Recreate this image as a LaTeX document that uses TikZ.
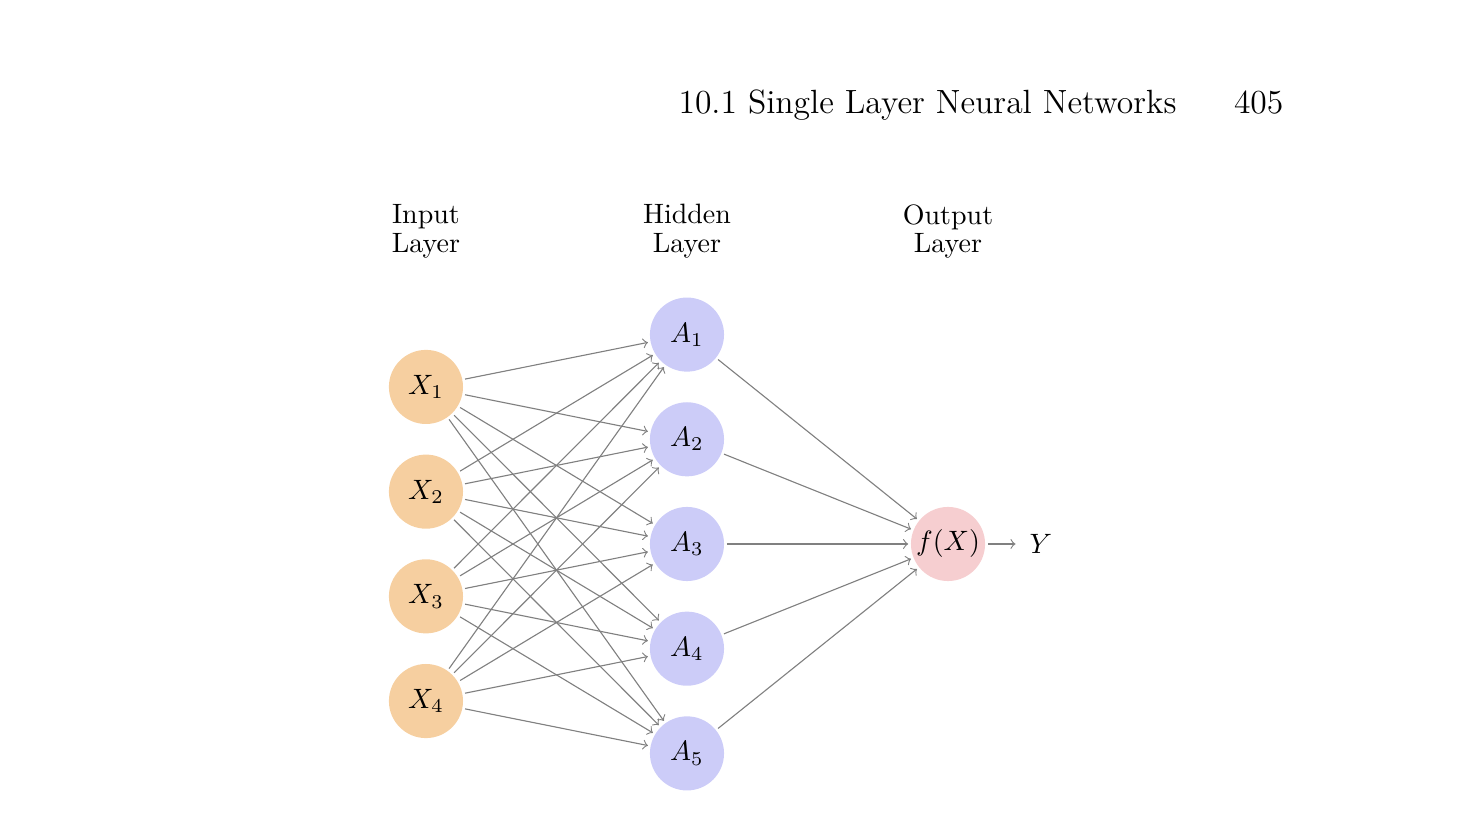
\documentclass[tikz,border=0pt]{standalone}
\usepackage{amsmath}
\usepackage{amssymb}
\usepackage{tikz}
\usetikzlibrary{matrix}
\usetikzlibrary{positioning}
\usetikzlibrary{calc}
\definecolor{inputcol}{RGB}{246,207,160}
\definecolor{hiddencol}{RGB}{204,204,248}
\definecolor{outputcol}{RGB}{246,206,208}

\begin{document}
\begin{tikzpicture}[>=to,
layer/.style={align=center,anchor=center},
wire/.style={->,draw=gray}]
\matrix (net) [%
matrix of math nodes,
nodes={circle,minimum size=0.93cm,inner sep=0pt,outer sep=1pt,anchor=center},
column 1/.style={nodes={fill=inputcol}},
column 2/.style={nodes={fill=hiddencol}},
column 3/.style={nodes={fill=outputcol}},
column sep=2.346cm,
row sep=-0.273cm,ampersand replacement=\&
]
{
	\& A_1 \&   \\
	X_1 \&   \&   \\
	\& A_2 \&   \\
	X_2 \&   \&   \\
	\& A_3 \& f(X) \\
	X_3 \&   \&   \\
	\& A_4 \&   \\
	X_4 \&   \&   \\
	\& A_5 \&   \\
};
\node[right=0.40cm of net-5-3] (y) {$Y$};
% layer titles
\node[layer] (inlab) at ($(net-2-1 |- net-1-2)+(0,1.295)$) {Input\\[-1.8pt]Layer};
\node[layer] (hidlab) at ($(net-1-2)+(0,1.295)$) {Hidden\\[-1.8pt]Layer};
\node[layer] (outlab) at ($(net-5-3 |- net-1-2)+(0,1.295)$) {Output\\[-1.8pt]Layer};
% running head
\node[anchor=base west,inner sep=0pt,font=\large] (head) at ($(net-5-2)+(-0.113,5.40)$) {10.1 Single Layer Neural Networks};
\node[anchor=base east,inner sep=0pt,font=\large] (page) at ($(net-5-2)+(7.492,5.40)$) {405};
\foreach \i in {2,4,6,8}
  \foreach \j in {1,3,5,7,9}
    \draw[wire] (net-\i-1) -- (net-\j-2);
\foreach \j in {1,3,5,7,9}
  \draw[wire] (net-\j-2) -- (net-5-3);
\draw[wire,shorten >=1.5pt] (net-5-3) -- (y);
\useasboundingbox ($(net-5-2.center)+(-8.622,6.827)$) rectangle ($(net-5-2.center)+(9.852,-3.614)$);
\end{tikzpicture}
\end{document}
